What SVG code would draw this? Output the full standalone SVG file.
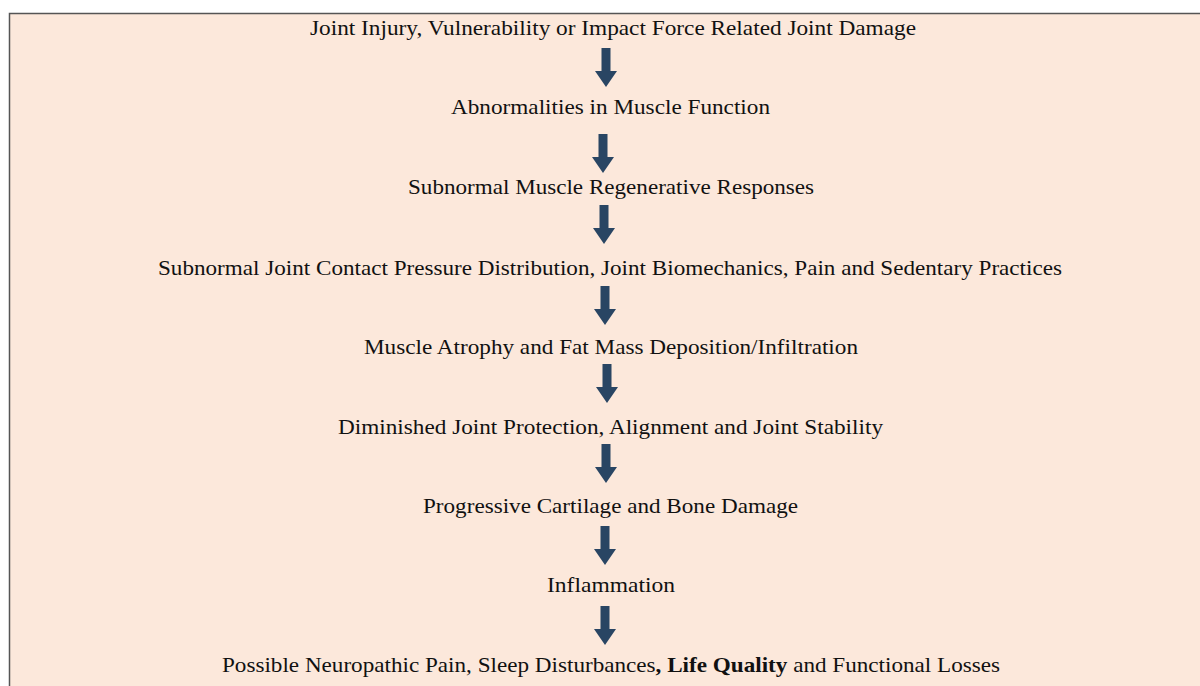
<svg xmlns="http://www.w3.org/2000/svg" width="1200" height="686" viewBox="0 0 1200 686">
<defs>
<style>
.t{font-family:"Liberation Serif","Times New Roman",serif;font-size:21px;fill:#111;text-anchor:middle}
.b{font-weight:bold}
.a{fill:#294563}
</style>
<path id="arr" d="M-4.5,0 H4.5 V23 H11 L0,39 L-11,23 H-4.5 Z"/>
</defs>
<rect x="9.5" y="13.5" width="1200" height="690" fill="#FCE8DB" stroke="#555" stroke-width="1.5"/>
<g id="connectors">
<use href="#arr" class="a" x="606" y="48"/>
<use href="#arr" class="a" x="603" y="134"/>
<use href="#arr" class="a" x="604" y="205"/>
<use href="#arr" class="a" x="605" y="286"/>
<use href="#arr" class="a" x="607" y="364"/>
<use href="#arr" class="a" x="606" y="444"/>
<use href="#arr" class="a" x="605" y="526"/>
<use href="#arr" class="a" x="605" y="606"/>
</g>
<g id="n1"><text class="t" x="613" y="35" textLength="606" lengthAdjust="spacingAndGlyphs">Joint Injury, Vulnerability or Impact Force Related Joint Damage</text></g>
<g id="n2"><text class="t" x="610.5" y="114" textLength="319" lengthAdjust="spacingAndGlyphs">Abnormalities in Muscle Function</text></g>
<g id="n3"><text class="t" x="611" y="194" textLength="406" lengthAdjust="spacingAndGlyphs">Subnormal Muscle Regenerative Responses</text></g>
<g id="n4"><text class="t" x="610" y="275" textLength="904" lengthAdjust="spacingAndGlyphs">Subnormal Joint Contact Pressure Distribution, Joint Biomechanics, Pain and Sedentary Practices</text></g>
<g id="n5"><text class="t" x="611" y="354" textLength="494" lengthAdjust="spacingAndGlyphs">Muscle Atrophy and Fat Mass Deposition/Infiltration</text></g>
<g id="n6"><text class="t" x="610.5" y="434" textLength="545" lengthAdjust="spacingAndGlyphs">Diminished Joint Protection, Alignment and Joint Stability</text></g>
<g id="n7"><text class="t" x="610.5" y="513" textLength="375" lengthAdjust="spacingAndGlyphs">Progressive Cartilage and Bone Damage</text></g>
<g id="n8"><text class="t" x="611" y="592" textLength="128" lengthAdjust="spacingAndGlyphs">Inflammation</text></g>
<g id="n9"><text class="t" x="611" y="672" textLength="778" lengthAdjust="spacingAndGlyphs">Possible Neuropathic Pain, Sleep Disturbances<tspan class="b">, Life Quality</tspan> and Functional Losses</text></g>
</svg>
